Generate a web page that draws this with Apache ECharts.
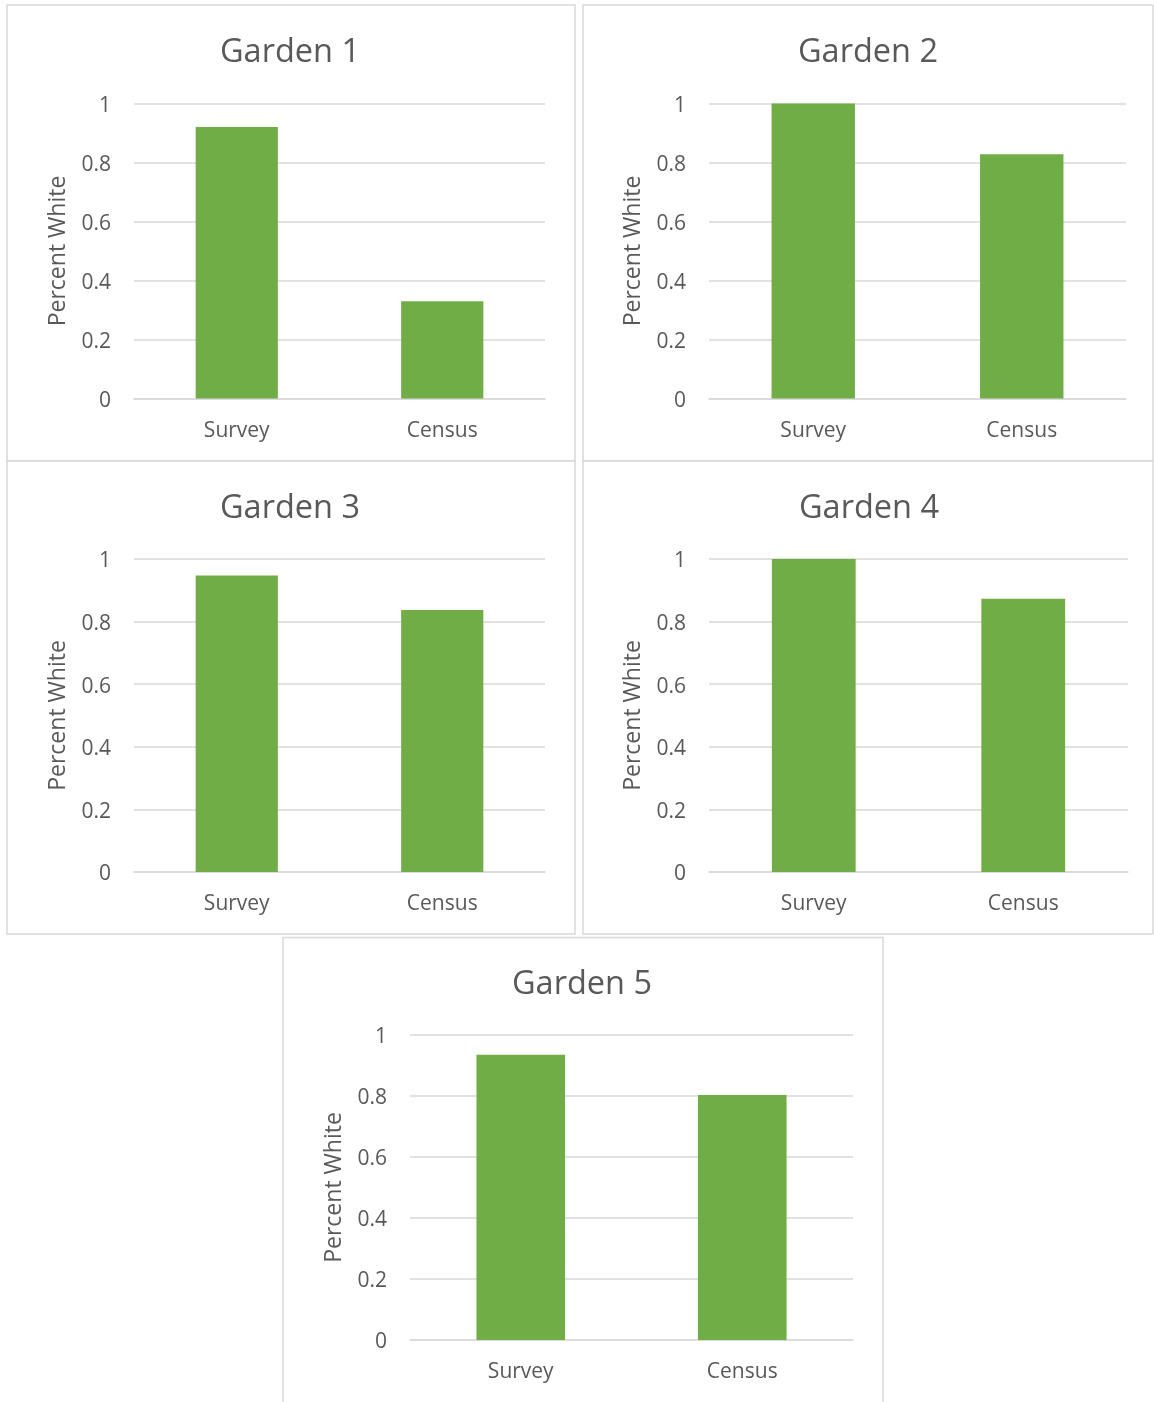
<!DOCTYPE html>
<html>
<head>
<meta charset="utf-8">
<script src="https://cdn.jsdelivr.net/npm/echarts@6/dist/echarts.min.js"></script>
<style>
  html, body { margin: 0; padding: 0; background: #ffffff; }
  #chart { width: 1154px; height: 1402px; }
</style>
</head>
<body>
<div id="chart"></div>
<script>
// ---- Data ----
const categories = ['Survey', 'Census'];
const titles = ['Garden 1', 'Garden 2', 'Garden 3', 'Garden 4', 'Garden 5'];
const garden1 = [0.92, 0.33];
const garden2 = [1.0, 0.828];
const garden3 = [0.947, 0.837];
const garden4 = [1.0, 0.873];
const garden5 = [0.935, 0.803];
const yAxisName = 'Percent White';
const yMin = 0, yMax = 1, yStep = 0.2;

// ---- Layout (pixels) ----
const panels = [
  { box: [7, 5, 568, 456],   grid: [134, 103.5, 411, 295], titleX: 290, titleY: 36 },
  { box: [583, 5, 570, 456], grid: [709, 103.5, 417, 295], titleX: 868, titleY: 36 },
  { box: [7, 461, 568, 473], grid: [134, 559, 411, 313],   titleX: 290, titleY: 492 },
  { box: [583, 461, 570, 473], grid: [709, 559, 419, 313], titleX: 869, titleY: 492 },
  { box: [283, 937.5, 600, 480], grid: [410, 1035, 443, 305], titleX: 582, titleY: 968 }
];
const seriesData = [garden1, garden2, garden3, garden4, garden5];

const TEXT = '#595959';
const GRID = '#D9D9D9';
const BAR = '#70AD47';
const FONT = '"Open Sans", "Noto Sans", sans-serif';

const option = {
  animation: false,
  backgroundColor: '#ffffff',
  graphic: panels.map(p => ({
    type: 'rect',
    silent: true,
    z: -10,
    shape: { x: p.box[0], y: p.box[1], width: p.box[2], height: p.box[3] },
    style: { fill: '#ffffff', stroke: GRID, lineWidth: 1.5 }
  })),
  title: panels.map((p, i) => ({
    text: titles[i],
    left: p.titleX,
    top: p.titleY,
    textAlign: 'center',
    padding: 0,
    textStyle: { color: TEXT, fontFamily: FONT, fontSize: 32.5, fontWeight: 'normal' }
  })),
  grid: panels.map(p => ({
    left: p.grid[0], top: p.grid[1], width: p.grid[2], height: p.grid[3],
    containLabel: false
  })),
  xAxis: panels.map((p, i) => ({
    type: 'category',
    gridIndex: i,
    data: categories,
    axisLine: { show: true, lineStyle: { color: GRID, width: 1.5 } },
    axisTick: { show: false },
    axisLabel: { color: TEXT, fontFamily: FONT, fontSize: 21, margin: 22 }
  })),
  yAxis: panels.map((p, i) => ({
    type: 'value',
    gridIndex: i,
    min: yMin, max: yMax, interval: yStep,
    name: yAxisName,
    nameLocation: 'middle',
    nameGap: 64,
    nameTextStyle: { color: TEXT, fontFamily: FONT, fontSize: 23 },
    axisLine: { show: false },
    axisTick: { show: false },
    splitLine: { show: true, lineStyle: { color: GRID, width: 1.5 } },
    axisLabel: {
      color: TEXT, fontFamily: FONT, fontSize: 21, margin: 23,
      formatter: v => '{v|' + v + '}',
      rich: { v: { color: TEXT, fontFamily: FONT, fontSize: 21, padding: [5, 0, 0, 0] } }
    }
  })),
  series: seriesData.map((d, i) => ({
    type: 'bar',
    xAxisIndex: i,
    yAxisIndex: i,
    data: d,
    barWidth: '40%',
    itemStyle: { color: BAR },
    z: 2
  }))
};

const chart = echarts.init(document.getElementById('chart'), null, { renderer: 'canvas' });
chart.setOption(option);
</script>
</body>
</html>
